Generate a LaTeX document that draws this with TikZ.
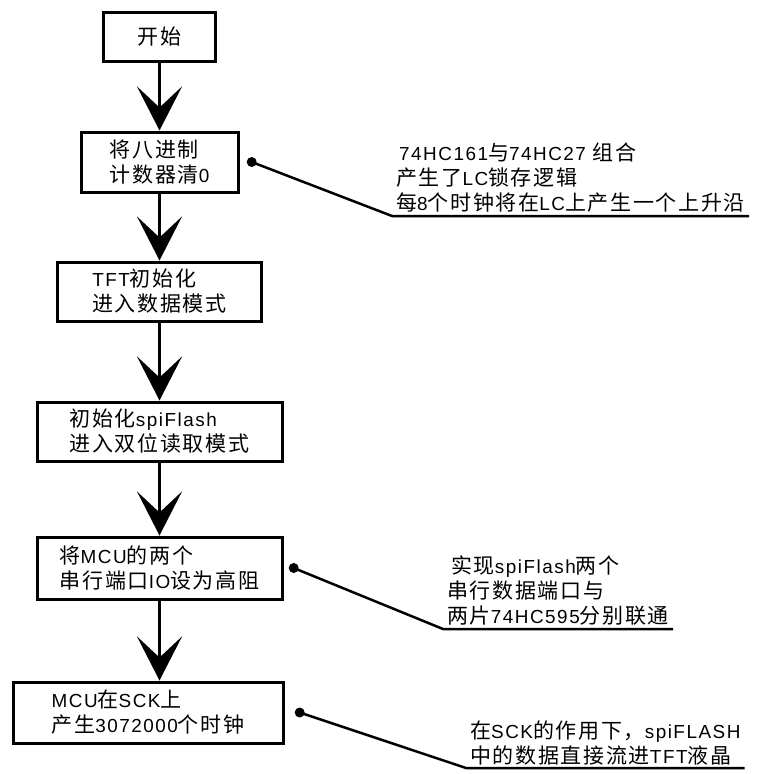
\documentclass[tikz,border=0pt]{standalone}
\usepackage{fontspec}
\setmainfont[LetterSpace=8]{Noto Sans CJK SC}
\newfontfamily\arialfont[LetterSpace=8, Scale=0.9]{Liberation Sans}
\newcommand{\en}[1]{{\arialfont #1}}
\usetikzlibrary{arrows.meta, positioning}

\begin{document}
\begin{tikzpicture}[x=1pt, y=-1pt,
    box/.style={draw, line width=3pt, align=left, inner sep=0pt,
      font=\fontsize{21}{25}\selectfont},
    flow/.style={line width=3pt, -{Stealth[length=44pt, width=45pt, inset=21pt]}},
    dot/.style={circle, fill, inner sep=0pt, minimum size=10pt},
    note/.style={align=left, anchor=south west, inner xsep=4pt, inner ysep=3pt,
      font=\fontsize{21}{25}\selectfont},
    lead/.style={line width=2.5pt}]
  \useasboundingbox (0, 0) rectangle (763, 774);

  % Flow boxes
  \node[box, minimum width=112pt, minimum height=49pt] (start) at (159.5, 36.5) {开始};
  \node[box, minimum width=157pt, minimum height=60pt] (clear) at (159.5, 162) {将八进制\\计数器清\en{0}};
  \node[box, minimum width=204pt, minimum height=59pt] (tft) at (159.5, 291.5) {\en{TFT}初始化\\进入数据模式};
  \node[box, minimum width=245pt, minimum height=59pt] (flash) at (159.5, 431.5) {初始化\en{spiFlash}\\进入双位读取模式};
  \node[box, minimum width=245pt, minimum height=62pt] (mcuio) at (159.5, 568) {将\en{MCU}的两个\\串行端口\en{IO}设为高阻};
  \node[box, minimum width=270pt, minimum height=61pt] (sck) at (148, 712.5) {\en{MCU}在\en{SCK}上\\产生\en{3072000}个时钟};

  % Flow arrows
  \draw[flow] (start) -- (clear);
  \draw[flow] (clear) -- (tft);
  \draw[flow] (tft) -- (flash);
  \draw[flow] (flash) -- (mcuio);
  \draw[flow] (mcuio) -- (mcuio |- sck.north);

  % Notes
  \node[dot, right=7pt of clear] (d1) {};
  \node[note] (n1) at (392, 216) {\hspace*{3pt}\en{74HC161}与\en{74HC27 }组合\\产生了\en{LC}锁存逻辑\\每\en{8}个时钟将在\en{LC}上产生一个上升沿};
  \draw[lead] (d1.center) -- (n1.south west) -- (n1.south east);

  \node[dot, right=5pt of mcuio] (d2) {};
  \node[note] (n2) at (443, 629) {\hspace*{4pt}实现\en{spiFlash}两个\\串行数据端口与\\两片\en{74HC595}分别联通};
  \draw[lead] (d2.center) -- (n2.south west) -- (n2.south east);

  \node[dot, right=10pt of sck] (d3) {};
  \node[note] (n3) at (466, 768) {在\en{SCK}的作用下，\en{spiFLASH}\\中的数据直接流进\en{TFT}液晶};
  \draw[lead] (d3.center) -- (n3.south west) -- (n3.south east);
\end{tikzpicture}
\end{document}
